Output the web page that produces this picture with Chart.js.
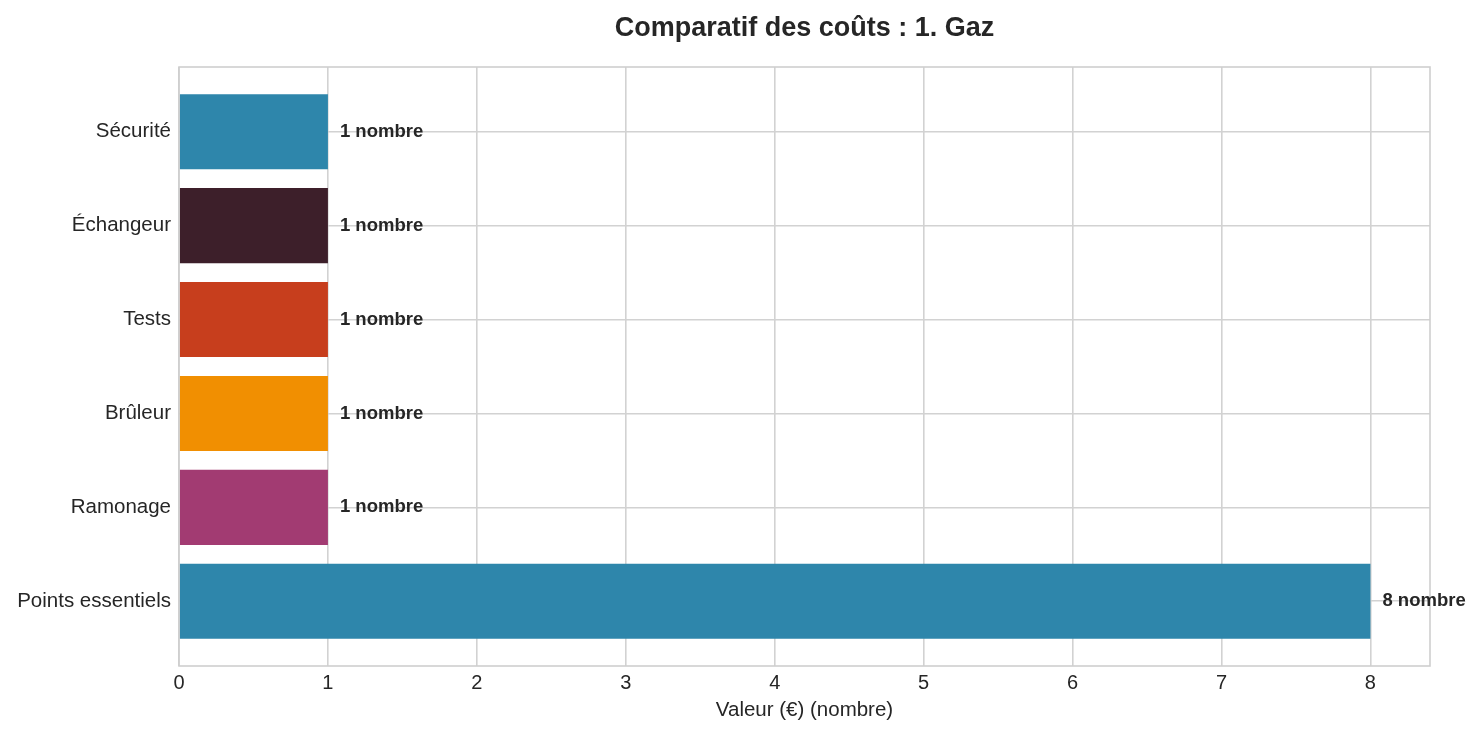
<!DOCTYPE html>
<html>
<head>
<meta charset="utf-8">
<script src="https://cdn.jsdelivr.net/npm/chart.js@4/dist/chart.umd.min.js"></script>
<style>
  html, body { margin: 0; padding: 0; background: #fff; }
  #wrap { width: 1481px; height: 735px; }
</style>
</head>
<body>
<div id="wrap"><canvas id="graph" width="1481" height="735"></canvas></div>
<script>
const categories = ['Sécurité', 'Échangeur', 'Tests', 'Brûleur', 'Ramonage', 'Points essentiels'];
const values = [1, 1, 1, 1, 1, 8];
const barColors = ['#2E86AB', '#3D1F2A', '#C73E1D', '#F18F01', '#A23B72', '#2E86AB'];
const xTicks = [0, 1, 2, 3, 4, 5, 6, 7, 8];
const unit = 'nombre';
const chartTitle = 'Comparatif des coûts : 1. Gaz';
const xTitle = 'Valeur (€) (nombre)';

const FONT = '"Liberation Sans", Arial, sans-serif';
const gridColor = '#d2d2d2';

// frame round the plot area, over the bar edges
const frame = {
    id: 'frame',
    afterDatasetsDraw(chart) {
        const a = chart.chartArea;
        const ctx = chart.ctx;
        ctx.save();
        ctx.strokeStyle = '#cfcfcf';
        ctx.lineWidth = 1.6;
        ctx.strokeRect(a.left, a.top, a.right - a.left, a.bottom - a.top);
        ctx.restore();
    }
};

// "1 nombre" labels at the end of each bar, and the title
const labels = {
    id: 'labels',
    afterDatasetsDraw(chart) {
        const ctx = chart.ctx;
        const meta = chart.getDatasetMeta(0);
        ctx.save();
        ctx.font = 'bold 18.5px ' + FONT;
        ctx.fillStyle = '#262626';
        ctx.textAlign = 'left';
        ctx.textBaseline = 'middle';
        meta.data.forEach((bar, i) => {
            ctx.fillText(values[i] + ' ' + unit, bar.x + 12, bar.y);
        });
        const a = chart.chartArea;
        ctx.font = 'bold 27px ' + FONT;
        ctx.textAlign = 'center';
        ctx.fillText(chartTitle, (a.left + a.right) / 2, 29);
        ctx.restore();
    }
};

new Chart(document.querySelector('#graph').getContext('2d'), {
    type: 'bar',
    data: {
        datasets: [{
            data: categories.map((c, i) => ({ x: values[i], y: i })),
            backgroundColor: barColors,
            borderWidth: 0,
            barPercentage: 0.8,
            categoryPercentage: 1
        }]
    },
    options: {
        indexAxis: 'y',
        responsive: false,
        animation: false,
        layout: { padding: { top: 67, right: 51, left: 0, bottom: 0 } },
        plugins: {
            legend: { display: false },
            tooltip: { enabled: false }
        },
        scales: {
            x: {
                type: 'linear',
                min: 0,
                max: 8.4,
                afterBuildTicks: (scale) => { scale.ticks = xTicks.map(v => ({ value: v })); },
                afterFit: (scale) => { scale.height = 69; },
                grid: { color: gridColor, lineWidth: 1.6, drawTicks: false },
                border: { display: false },
                ticks: { font: { size: 20, family: FONT }, color: '#262626', padding: 5 },
                title: {
                    display: true,
                    text: xTitle,
                    font: { size: 20.5, family: FONT },
                    color: '#262626',
                    padding: { top: 0, bottom: 12 }
                }
            },
            y: {
                type: 'linear',
                reverse: true,
                offset: false,
                min: -0.69,
                max: 5.69,
                afterBuildTicks: (scale) => { scale.ticks = categories.map((c, i) => ({ value: i })); },
                afterFit: (scale) => { scale.width = 179; },
                grid: { color: gridColor, lineWidth: 1.6, drawTicks: false, offset: false },
                border: { display: false },
                ticks: {
                    font: { size: 20.5, family: FONT },
                    color: '#262626',
                    padding: 8,
                    callback: (v) => categories[v]
                }
            }
        }
    },
    plugins: [frame, labels]
});
</script>
</body>
</html>
